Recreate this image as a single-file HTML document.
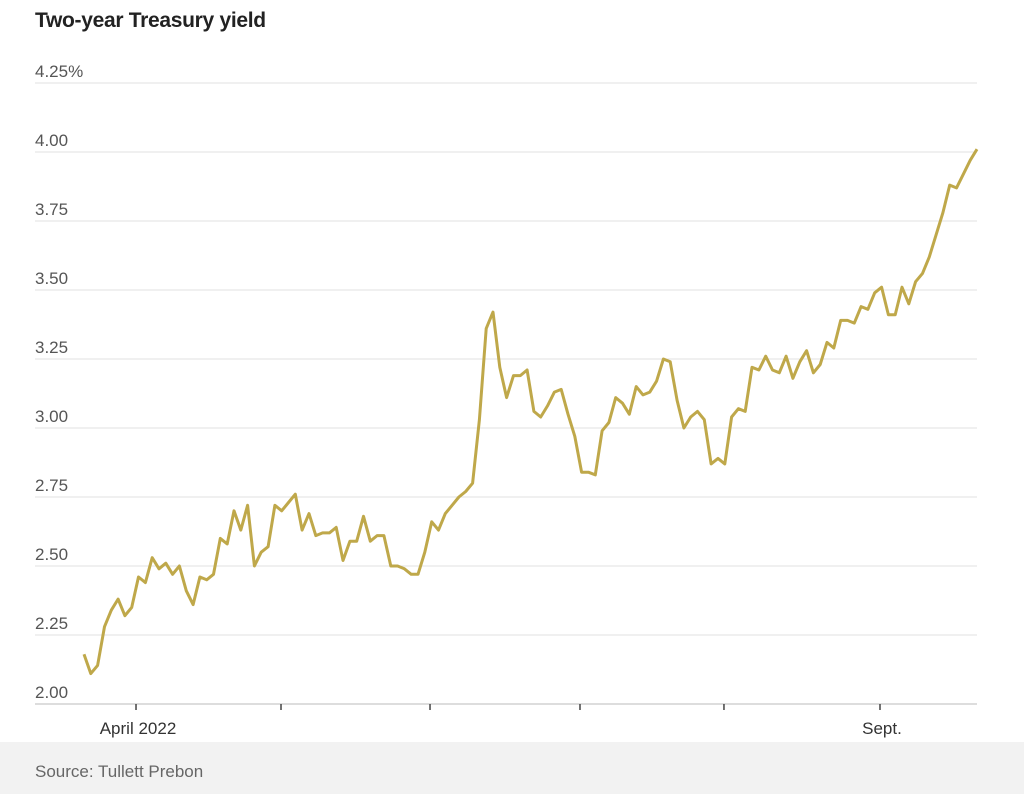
<!DOCTYPE html>
<html><head><meta charset="utf-8"><style>
body{margin:0;background:#fff;font-family:"Liberation Sans",sans-serif;}
#wrap{position:relative;width:1024px;height:794px;overflow:hidden;}
#title{position:absolute;left:35px;top:9px;font-size:21px;font-weight:bold;color:#222;letter-spacing:-0.3px;}
#footer{position:absolute;left:0;top:742px;width:1024px;height:52px;background:#f2f2f2;}
#source{position:absolute;left:35px;top:762px;font-size:17px;color:#666;}
</style></head><body>
<div id="wrap">
<div id="title">Two-year Treasury yield</div>
<svg id="chart" width="1024" height="740" style="position:absolute;left:0;top:0"></svg>
<div id="footer"></div>
<div id="source">Source: Tullett Prebon</div>
</div>
<script>
const yields=[2.18,2.11,2.14,2.28,2.34,2.38,2.32,2.35,2.46,2.44,2.53,2.49,2.51,2.47,2.50,2.41,2.36,2.46,2.45,2.47,2.60,2.58,2.70,2.63,2.72,2.50,2.55,2.57,2.72,2.70,2.73,2.76,2.63,2.69,2.61,2.62,2.62,2.64,2.52,2.59,2.59,2.68,2.59,2.61,2.61,2.50,2.50,2.49,2.47,2.47,2.55,2.66,2.63,2.69,2.72,2.75,2.77,2.80,3.03,3.36,3.42,3.22,3.11,3.19,3.19,3.21,3.06,3.04,3.08,3.13,3.14,3.05,2.97,2.84,2.84,2.83,2.99,3.02,3.11,3.09,3.05,3.15,3.12,3.13,3.17,3.25,3.24,3.10,3.00,3.04,3.06,3.03,2.87,2.89,2.87,3.04,3.07,3.06,3.22,3.21,3.26,3.21,3.20,3.26,3.18,3.24,3.28,3.20,3.23,3.31,3.29,3.39,3.39,3.38,3.44,3.43,3.49,3.51,3.41,3.41,3.51,3.45,3.53,3.56,3.62,3.70,3.78,3.88,3.87,3.92,3.97,4.01];
const yTicks=[2.00,2.25,2.50,2.75,3.00,3.25,3.50,3.75,4.00,4.25];
const yTickLabels=["2.00","2.25","2.50","2.75","3.00","3.25","3.50","3.75","4.00","4.25%"];
const xTickIdx=[7.63,28.9,50.76,72.76,93.88,116.77];
const xTickLabels=["April 2022","","","","","Sept."];
const svg=document.getElementById('chart');const NS='http://www.w3.org/2000/svg';
const x0=84,x1=977,yB=704,pxPer=276;
const xs=i=>x0+(x1-x0)*i/(yields.length-1);
const ys=v=>yB-(v-2)*pxPer;
function mk(t,a){const e=document.createElementNS(NS,t);for(const k in a)e.setAttribute(k,a[k]);svg.appendChild(e);return e;}
yTicks.forEach((v,i)=>{
 if(i>0){const g=mk('line',{x1:35,x2:977,y1:ys(v),y2:ys(v),stroke:'#e2e2e2','stroke-width':1});
 
 }
 const t=mk('text',{x:35,y:ys(v)-6,'font-size':17,fill:'#555','font-family':'Liberation Sans, sans-serif'});
 t.textContent=yTickLabels[i];
 
 
});
const ax=mk('line',{x1:35,x2:977,y1:yB,y2:yB,stroke:'#bbb','stroke-width':1});


xTickIdx.forEach((k,i)=>{
 const x=xs(k);
 const tk=mk('line',{x1:x,x2:x,y1:yB,y2:yB+6,stroke:'#444','stroke-width':1.5});
 
 
 if(xTickLabels[i]){const t=mk('text',{x:x+2,y:734,'font-size':17,fill:'#333','text-anchor':'middle','font-family':'Liberation Sans, sans-serif'});
 t.textContent=xTickLabels[i];
 
 }
});
const d=yields.map((v,i)=>(i?'L':'M')+xs(i).toFixed(1)+','+ys(v).toFixed(1)).join('');
const p=mk('path',{d:d,fill:'none',stroke:'#bfa84a','stroke-width':3,'stroke-linejoin':'round'});


</script>
</body></html>
